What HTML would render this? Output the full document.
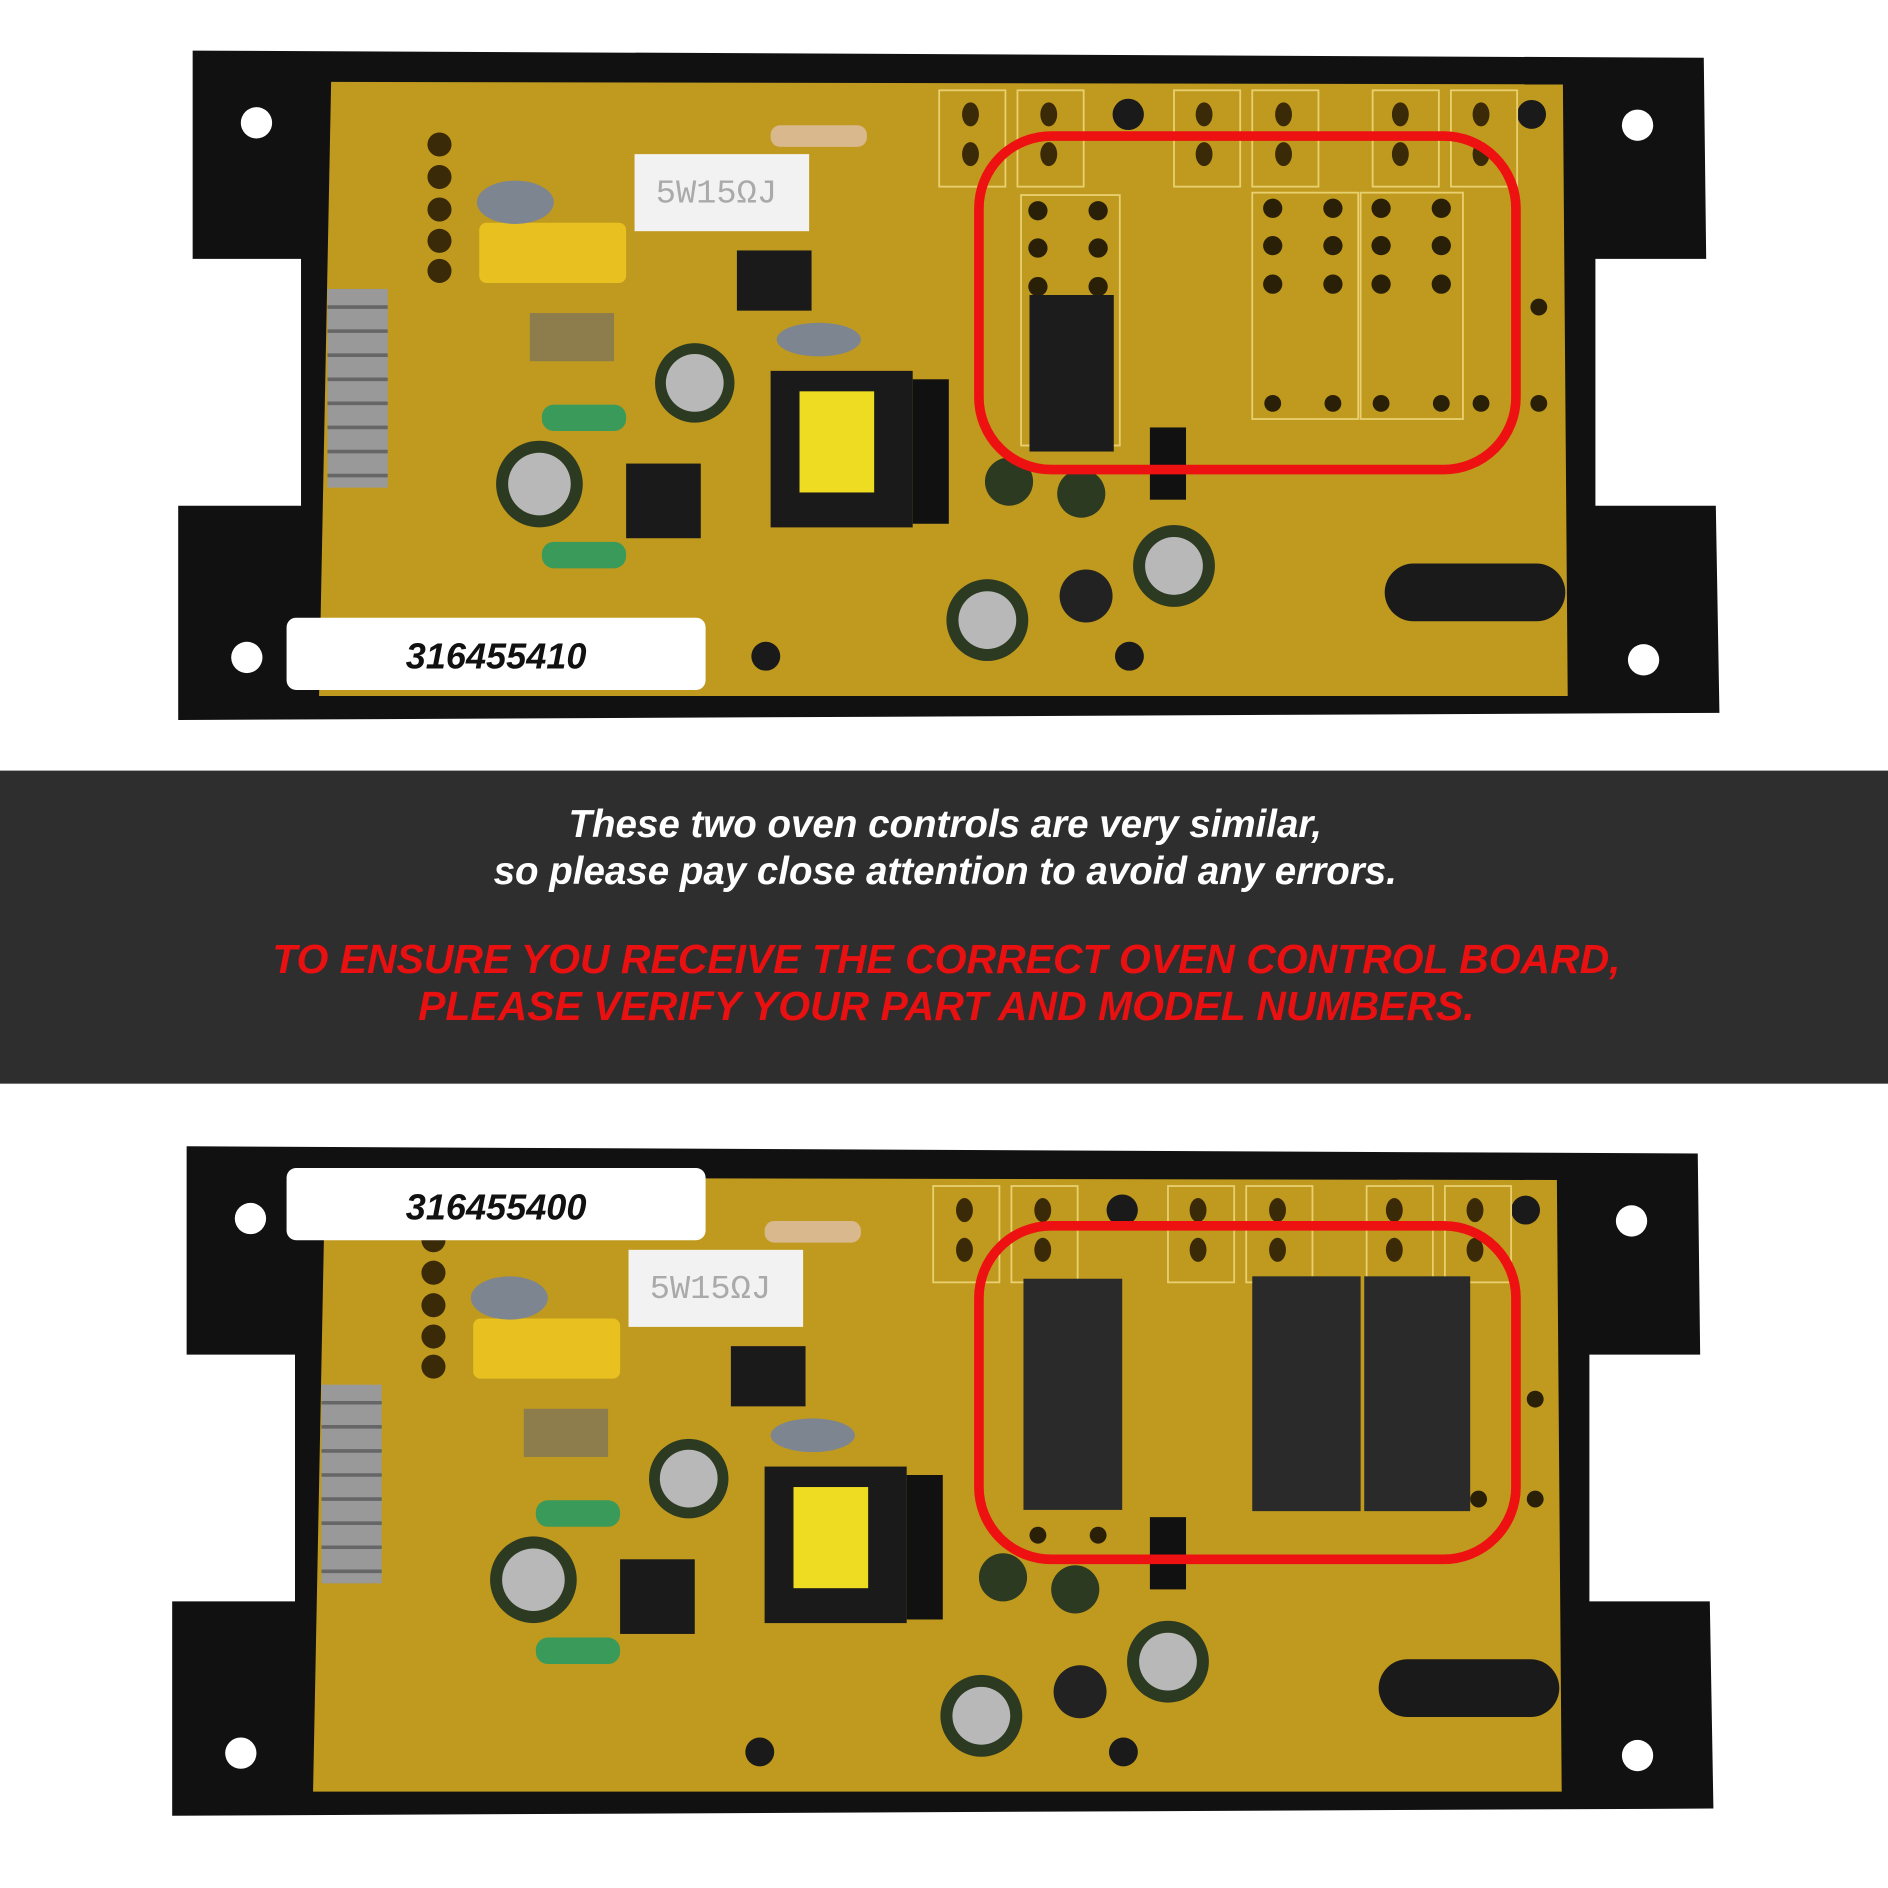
<!DOCTYPE html>
<html><head><meta charset="utf-8"><style>
html,body{margin:0;padding:0;background:#fff;width:1888px;height:1888px;overflow:hidden}
svg{display:block}
</style></head><body>
<svg width="1888" height="1888" viewBox="0 0 1568 1568" xmlns="http://www.w3.org/2000/svg">
<defs>
<g id="board">
  <path d="M160,42 L1415,48 L1417,215 L1325,215 L1325,420 L1425,420 L1428,592 L148,598 L148,420 L250,420 L250,215 L160,215 Z" fill="#111"/>
  <path d="M275,68 L1298,70 L1302,578 L265,578 Z" fill="#c09a1e"/>
  <circle cx="213" cy="102" r="13" fill="#fff"/>
  <circle cx="1360" cy="104" r="13" fill="#fff"/>
  <circle cx="205" cy="546" r="13" fill="#fff"/>
  <circle cx="1365" cy="548" r="13" fill="#fff"/>
  <rect x="272" y="240" width="50" height="165" fill="#999"/>
  <g stroke="#666" stroke-width="3">
    <line x1="272" y1="255" x2="322" y2="255"/><line x1="272" y1="275" x2="322" y2="275"/>
    <line x1="272" y1="295" x2="322" y2="295"/><line x1="272" y1="315" x2="322" y2="315"/>
    <line x1="272" y1="335" x2="322" y2="335"/><line x1="272" y1="355" x2="322" y2="355"/>
    <line x1="272" y1="375" x2="322" y2="375"/><line x1="272" y1="395" x2="322" y2="395"/>
  </g>
  <g fill="#3a2a08"><circle cx="365" cy="120" r="10"/><circle cx="365" cy="147" r="10"/><circle cx="365" cy="174" r="10"/><circle cx="365" cy="200" r="10"/><circle cx="365" cy="225" r="10"/></g>
  <rect x="398" y="185" width="122" height="50" rx="6" fill="#e8c020"/>
  <ellipse cx="428" cy="168" rx="32" ry="18" fill="#7d8590"/>
  <rect x="527" y="128" width="145" height="64" fill="#f2f2f2"/>
  <text x="595" y="168" font-family="Liberation Mono, monospace" font-size="28" fill="#aaa" text-anchor="middle">5W15ΩJ</text>
  <rect x="640" y="104" width="80" height="18" rx="8" fill="#d8b88c"/>
  <rect x="612" y="208" width="62" height="50" fill="#1a1a1a"/>
  <rect x="520" y="385" width="62" height="62" fill="#1a1a1a"/>
  <circle cx="577" cy="318" r="33" fill="#2d3a22"/><circle cx="577" cy="318" r="24" fill="#b8b8b8"/>
  <circle cx="448" cy="402" r="36" fill="#2d3a22"/><circle cx="448" cy="402" r="26" fill="#b8b8b8"/>
  <circle cx="975" cy="470" r="34" fill="#2d3a22"/><circle cx="975" cy="470" r="24" fill="#b8b8b8"/>
  <circle cx="820" cy="515" r="34" fill="#2d3a22"/><circle cx="820" cy="515" r="24" fill="#b8b8b8"/>
  <circle cx="838" cy="400" r="20" fill="#2d3a22"/><circle cx="898" cy="410" r="20" fill="#2d3a22"/>
  <circle cx="902" cy="495" r="22" fill="#222"/>
  <rect x="450" y="336" width="70" height="22" rx="10" fill="#3a9a5a"/>
  <rect x="450" y="450" width="70" height="22" rx="10" fill="#3a9a5a"/>
  <rect x="440" y="260" width="70" height="40" fill="#6a6a6a" opacity="0.6"/>
  <rect x="640" y="308" width="118" height="130" fill="#1a1a1a"/>
  <rect x="664" y="325" width="62" height="84" fill="#eedc22"/>
  <rect x="758" y="315" width="30" height="120" fill="#111"/>
  <ellipse cx="680" cy="282" rx="35" ry="14" fill="#7d8590"/>
  <rect x="1150" y="468" width="150" height="48" rx="24" fill="#1a1a1a"/>
  <g fill="#3a2a08">
    <ellipse cx="806" cy="95" rx="7" ry="10"/><ellipse cx="806" cy="128" rx="7" ry="10"/>
    <ellipse cx="871" cy="95" rx="7" ry="10"/><ellipse cx="871" cy="128" rx="7" ry="10"/>
    <circle cx="937" cy="95" r="13" fill="#1a1a1a"/>
    <ellipse cx="1000" cy="95" rx="7" ry="10"/><ellipse cx="1000" cy="128" rx="7" ry="10"/>
    <ellipse cx="1066" cy="95" rx="7" ry="10"/><ellipse cx="1066" cy="128" rx="7" ry="10"/>
    <ellipse cx="1163" cy="95" rx="7" ry="10"/><ellipse cx="1163" cy="128" rx="7" ry="10"/>
    <ellipse cx="1230" cy="95" rx="7" ry="10"/><ellipse cx="1230" cy="128" rx="7" ry="10"/>
    <circle cx="1272" cy="95" r="12" fill="#1a1a1a"/>
    <circle cx="636" cy="545" r="12" fill="#1a1a1a"/><circle cx="938" cy="545" r="12" fill="#1a1a1a"/>
  </g>
  <g fill="none" stroke="#e8d070" stroke-width="1.5">
    <rect x="780" y="75" width="55" height="80"/><rect x="845" y="75" width="55" height="80"/>
    <rect x="975" y="75" width="55" height="80"/><rect x="1040" y="75" width="55" height="80"/>
    <rect x="1140" y="75" width="55" height="80"/><rect x="1205" y="75" width="55" height="80"/>
  </g>
</g>
</defs>
<rect width="1568" height="1568" fill="#fff"/>
<use href="#board"/>
<g fill="none" stroke="#e8d070" stroke-width="1.5">
  <rect x="848" y="162" width="82" height="208"/><rect x="1040" y="160" width="88" height="188"/><rect x="1130" y="160" width="85" height="188"/>
</g>
<g fill="#2a2008">
  <circle cx="862" cy="175" r="8"/><circle cx="912" cy="175" r="8"/><circle cx="862" cy="206" r="8"/><circle cx="912" cy="206" r="8"/><circle cx="862" cy="238" r="8"/><circle cx="912" cy="238" r="8"/>
  <circle cx="1057" cy="173" r="8"/><circle cx="1107" cy="173" r="8"/><circle cx="1057" cy="204" r="8"/><circle cx="1107" cy="204" r="8"/><circle cx="1057" cy="236" r="8"/><circle cx="1107" cy="236" r="8"/>
  <circle cx="1147" cy="173" r="8"/><circle cx="1197" cy="173" r="8"/><circle cx="1147" cy="204" r="8"/><circle cx="1197" cy="204" r="8"/><circle cx="1147" cy="236" r="8"/><circle cx="1197" cy="236" r="8"/>
  <circle cx="1057" cy="335" r="7"/><circle cx="1107" cy="335" r="7"/><circle cx="1147" cy="335" r="7"/><circle cx="1197" cy="335" r="7"/><circle cx="1230" cy="335" r="7"/><circle cx="1278" cy="335" r="7"/><circle cx="1278" cy="255" r="7"/>
</g>
<rect x="855" y="245" width="70" height="130" fill="#1c1c1c"/>
<rect x="955" y="355" width="30" height="60" fill="#111"/>
<rect x="813" y="113" width="446" height="277" rx="60" fill="none" stroke="#ee1111" stroke-width="8"/>
<rect x="238" y="513" width="348" height="60" rx="8" fill="#fff"/>
<text x="412" y="555" font-family="Liberation Sans, sans-serif" font-size="30" font-weight="bold" font-style="italic" fill="#111" text-anchor="middle">316455410</text>

<rect x="0" y="640" width="1568" height="260" fill="#2e2e2e"/>
<g font-family="Liberation Sans, sans-serif" font-weight="bold" font-style="italic" text-anchor="middle">
<text x="785" y="695" font-size="32" fill="#fff">These two oven controls are very similar,</text>
<text x="785" y="734" font-size="32" fill="#fff">so please pay close attention to avoid any errors.</text>
<text x="786" y="808" font-size="34" fill="#e81010">TO ENSURE YOU RECEIVE THE CORRECT OVEN CONTROL BOARD,</text>
<text x="786" y="847" font-size="34" fill="#e81010">PLEASE VERIFY YOUR PART AND MODEL NUMBERS.</text>
</g>

<use href="#board" transform="translate(-5,910)"/>
<rect x="850" y="1062" width="82" height="192" fill="#2a2a2a"/>
<rect x="1040" y="1060" width="90" height="195" fill="#2a2a2a"/>
<rect x="1133" y="1060" width="88" height="195" fill="#2a2a2a"/>
<g fill="#2a2008"><circle cx="862" cy="1275" r="7"/><circle cx="912" cy="1275" r="7"/><circle cx="1228" cy="1245" r="7"/><circle cx="1275" cy="1245" r="7"/><circle cx="1275" cy="1162" r="7"/></g>
<rect x="955" y="1260" width="30" height="60" fill="#111"/>
<rect x="813" y="1018" width="446" height="277" rx="60" fill="none" stroke="#ee1111" stroke-width="8"/>
<rect x="238" y="970" width="348" height="60" rx="8" fill="#fff"/>
<text x="412" y="1013" font-family="Liberation Sans, sans-serif" font-size="30" font-weight="bold" font-style="italic" fill="#111" text-anchor="middle">316455400</text>
</svg>
</body></html>
